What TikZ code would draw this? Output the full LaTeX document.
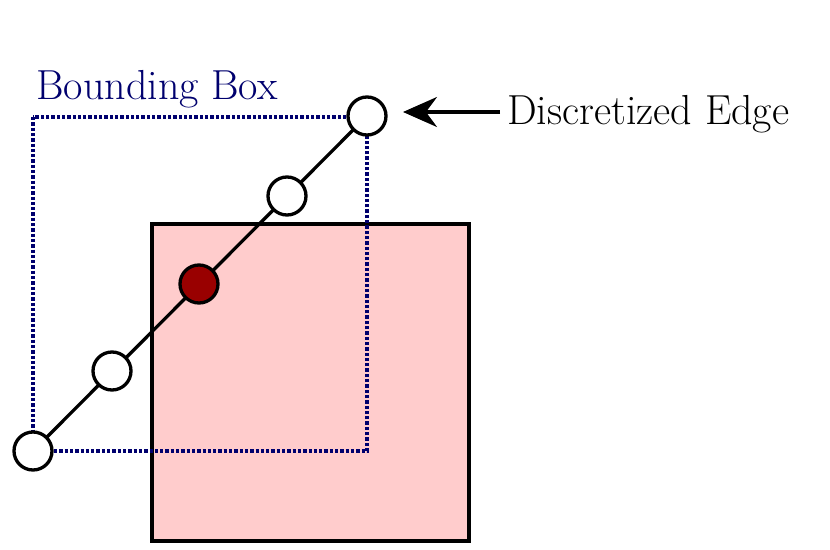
\documentclass[tikz,border=0pt]{standalone}
\usetikzlibrary{arrows.meta}
\begin{document}
\begin{tikzpicture}[x=1pt,y=-1pt,
  pt/.style={circle,draw=black,line width=3.3pt,fill=white,minimum size=38pt,inner sep=0pt},
  lbl/.style={font=\fontsize{42}{46}\selectfont,inner sep=0pt}]
\useasboundingbox (0,0) rectangle (830,549);
\definecolor{navy}{RGB}{0,0,110}
\definecolor{pinkf}{RGB}{255,204,204}
\definecolor{darkred}{RGB}{153,0,0}
\draw[line width=3.5pt,fill=pinkf] (152,224) rectangle (469,541);
\draw[navy,line width=3.3pt,dotted] (33,117) rectangle (367,451);
\coordinate (a) at (33,451);
\coordinate (e) at (367,116);
\draw[line width=3.3pt] (a) -- (e);
\node[pt] (p1) at (33,451) {};
\node[pt] (p2) at (112,371) {};
\node[pt,fill=darkred] (p3) at (199,284) {};
\node[pt] (p4) at (287,196) {};
\node[pt] (p5) at (367,116) {};
\node[lbl,text=navy] (bb) at (157,89) {Bounding Box};
\node[lbl,anchor=west] (de) at (507,114) {Discretized Edge};
\coordinate (s) at (500,112);
\coordinate (t) at (403,112);
\draw[line width=3.3pt,-{Stealth[length=34pt,width=30pt]}] (s) -- (t);
\end{tikzpicture}
\end{document}
